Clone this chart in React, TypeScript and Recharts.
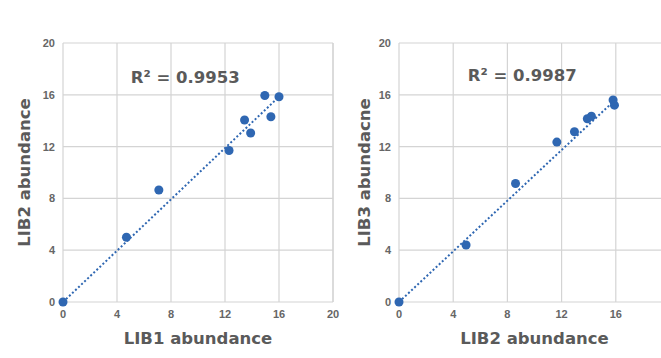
import React from "react";
import {
  ScatterChart,
  Scatter,
  XAxis,
  YAxis,
  ZAxis,
  CartesianGrid,
  ReferenceLine,
  ReferenceDot,
} from "recharts";

// LIB1 vs LIB2
const lib1X = [0, 4.7, 7.1, 12.3, 13.45, 13.9, 14.95, 15.4, 16.0];
const lib2Y = [0, 5.0, 8.65, 11.7, 14.05, 13.05, 15.95, 14.3, 15.85];
// LIB2 vs LIB3
const lib2X = [0, 4.95, 8.6, 11.65, 12.95, 13.9, 14.2, 15.8, 15.9];
const lib3Y = [0, 4.4, 9.15, 12.35, 13.15, 14.15, 14.35, 15.6, 15.2];

const ticks = [0, 4, 8, 12, 16, 20];
// the right panel is cut at the page edge, its "20" label is not visible
const ticksRightX = [0, 4, 8, 12, 16];
const trendLeft = [
  { x: 0, y: 0 },
  { x: 16.0, y: 15.85 },
];
const trendRight = [
  { x: 0, y: 0 },
  { x: 15.9, y: 15.55 },
];

const BLUE = "#2f67b2";
const GRID = "#d4d4d4";
const TEXT = "#5a5a5a";
const FONT = "'Liberation Sans', Arial, sans-serif";
const BIG = "'DejaVu Sans', sans-serif";

const toPoints = (xs: number[], ys: number[]) => xs.map((x, i) => ({ x, y: ys[i] }));

interface PanelProps {
  points: { x: number; y: number }[];
  trend: { x: number; y: number }[];
  xTicks: number[];
  xLabel: string;
  yLabel: string;
  r2: string;
  r2Pos: { x: number; y: number };
  yAxisWidth: number;
  yLabelOffset: number;
  marginRight: number;
}

function Panel({ points, trend, xTicks, xLabel, yLabel, r2, r2Pos, yAxisWidth, yLabelOffset, marginRight }: PanelProps) {
  const tick = { fill: "#666", fontSize: 11, fontFamily: FONT, fontWeight: "bold" };
  const big = { fill: TEXT, fontSize: 16.5, fontWeight: "bold", fontFamily: BIG };
  return (
    <ScatterChart
      width={345}
      height={358}
      margin={{ top: 43, right: marginRight, left: 0, bottom: 26 }}
      style={{ fontFamily: FONT }}
    >
      <CartesianGrid stroke={GRID} strokeWidth={1.2} />
      <XAxis
        type="number"
        dataKey="x"
        domain={[0, 20]}
        ticks={xTicks}
        tick={tick}
        axisLine={false}
        tickLine={false}
        height={30}
        label={{ value: xLabel, position: "bottom", offset: 0, style: big }}
      />
      <YAxis
        type="number"
        dataKey="y"
        domain={[0, 20]}
        ticks={ticks}
        tick={tick}
        axisLine={false}
        tickLine={false}
        width={yAxisWidth}
        label={{
          value: yLabel,
          angle: -90,
          position: "insideLeft",
          offset: yLabelOffset,
          style: { ...big, textAnchor: "middle" },
        }}
      />
      <ZAxis range={[80, 80]} />
      <ReferenceLine x={20} stroke={GRID} strokeWidth={1.2} ifOverflow="visible" />
      <ReferenceLine
        segment={trend}
        stroke={BLUE}
        strokeWidth={2}
        strokeDasharray="2 2.2"
        ifOverflow="visible"
      />
      <ReferenceDot
        x={r2Pos.x}
        y={r2Pos.y}
        r={0}
        fill="none"
        stroke="none"
        label={{ value: r2, position: "center", style: big }}
      />
      <Scatter data={points} fill={BLUE} shape="circle" isAnimationActive={false} />
    </ScatterChart>
  );
}

export default function App() {
  return (
    <div
      style={{
        position: "absolute",
        left: 0,
        top: 0,
        width: 661,
        height: 358,
        overflow: "hidden",
        background: "#fff",
      }}
    >
      <div style={{ position: "absolute", left: 0, top: 0 }}>
        <Panel
          points={toPoints(lib1X, lib2Y)}
          trend={trendLeft}
          xTicks={ticks}
          xLabel="LIB1 abundance"
          yLabel="LIB2 abundance"
          r2="R² = 0.9953"
          r2Pos={{ x: 9.05, y: 17.4 }}
          yAxisWidth={63}
          yLabelOffset={24}
          marginRight={12}
        />
      </div>
      <div style={{ position: "absolute", left: 330, top: 0 }}>
        <Panel
          points={toPoints(lib2X, lib3Y)}
          trend={trendRight}
          xTicks={ticksRightX}
          xLabel="LIB2 abundance"
          yLabel="LIB3 abundacne"
          r2="R² = 0.9987"
          r2Pos={{ x: 9.1, y: 17.55 }}
          yAxisWidth={69}
          yLabelOffset={34}
          marginRight={5}
        />
      </div>
    </div>
  );
}
